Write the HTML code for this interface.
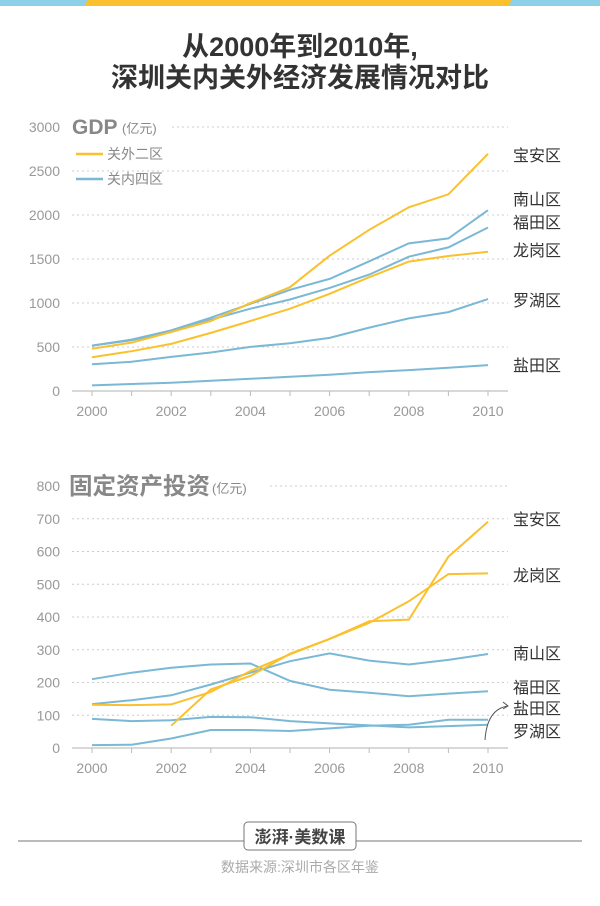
<!DOCTYPE html>
<html><head><meta charset="utf-8"><style>
body{margin:0;width:600px;height:901px;background:#fff;overflow:hidden;font-family:"Liberation Sans","Noto Sans CJK SC",sans-serif;}
svg text{font-family:"Liberation Sans","Noto Sans CJK SC",sans-serif;}
</style></head><body>
<svg id="c" width="600" height="901" viewBox="0 0 600 901">
<rect x="0" y="0" width="600" height="6" fill="#8ed0e8"/>
<polygon points="88,0 512,0 508,6 84,6" fill="#fbc02d"/>
<text x="300" y="56" text-anchor="middle" font-size="27" font-weight="bold" fill="#333">从2000年到2010年,</text>
<text x="300" y="87" text-anchor="middle" font-size="27" font-weight="bold" fill="#333">深圳关内关外经济发展情况对比</text>
<g id="g1"></g>
<g id="g2"></g>
<line x1="18" y1="841" x2="582" y2="841" stroke="#777" stroke-width="1"/>
<rect x="244" y="822" width="112" height="28" rx="4" fill="#fff" stroke="#777"/>
<text x="300" y="843" text-anchor="middle" font-size="17" font-weight="bold" fill="#444">澎湃·美数课</text>
<text x="300" y="872" text-anchor="middle" font-size="14" fill="#aaa">数据来源:深圳市各区年鉴</text>
</svg>
<script>
const years=[2000,2001,2002,2003,2004,2005,2006,2007,2008,2009,2010];
const gdpTicks=[0,500,1000,1500,2000,2500,3000];
const invTicks=[0,100,200,300,400,500,600,700,800];
const xTickLabels=[2000,2002,2004,2006,2008,2010];
const gdpBaoan=[479,550,671,795,999,1180,1538,1832,2088,2235,2695];
const gdpLonggang=[384,452,535,660,795,935,1104,1293,1470,1534,1583];
const gdpNanshan=[516,584,690,833,991,1150,1274,1474,1677,1734,2054];
const gdpFutian=[516,577,671,810,935,1040,1172,1323,1526,1632,1858];
const gdpLuohu=[305,332,388,437,501,543,603,720,825,897,1044];
const gdpYantian=[64,79,94,117,139,162,185,215,237,264,294];
const invBaoan=[null,null,68,179,220,288,333,387,392,584,691];
const invLonggang=[132,131,133,171,235,286,333,382,448,531,533];
const invNanshan=[134,146,161,194,230,265,289,267,255,269,287];
const invFutian=[210,230,245,255,258,205,178,169,158,166,173];
const invYantian=[9,10,29,55,55,52,60,68,71,86,86];
const invLuohu=[89,82,85,95,94,82,75,69,63,67,71];
const NS="http://www.w3.org/2000/svg";
const Y="#fbc02d",B="#7ab8d6";
function mk(p,t,a){const e=document.createElementNS(NS,t);for(const k in a)e.setAttribute(k,a[k]);p.appendChild(e);return e;}
const x=v=>92+(v-2000)*39.6;
function chart(g,y0,pxPerUnit,ticks,series,labels,gridStart){
  const y=v=>y0-v*pxPerUnit;
  ticks.forEach((t,i)=>{
    if(t>0){const l=mk(g,'line',{x1:i==ticks.length-1?gridStart:72,x2:508,y1:y(t),y2:y(t),stroke:'#ccc','stroke-dasharray':'2,3'});
    
    }
    const tx=mk(g,'text',{x:60,y:y(t)+5,'text-anchor':'end','font-size':14,fill:'#999'});tx.textContent=t;
    
    
  });
  const ax=mk(g,'line',{x1:72,x2:508,y1:y0,y2:y0,stroke:'#ccc','stroke-width':1.5});
  
  
  years.forEach(yr=>{const t=mk(g,'line',{x1:x(yr),x2:x(yr),y1:y0,y2:y0+5,stroke:'#bbb'});
    
    });
  xTickLabels.forEach(yr=>{const t=mk(g,'text',{x:x(yr),y:y0+25,'text-anchor':'middle','font-size':14,fill:'#999'});t.textContent=yr;
    
    });
  series.forEach(s=>{
    let d='';s.v.forEach((v,i)=>{if(v==null)return;d+=(d?'L':'M')+x(years[i]).toFixed(1)+','+y(v).toFixed(1);});
    const p=mk(g,'path',{d:d,fill:'none',stroke:s.c,'stroke-width':2});
    
    
  });
  labels.forEach(l=>{const t=mk(g,'text',{x:513,y:l[1],'font-size':16,fill:'#333'});t.textContent=l[0];
    
    });
}
const g1=document.getElementById('g1'),g2=document.getElementById('g2');
chart(g1,391,44/500,gdpTicks,[
 {v:gdpYantian,c:B,n:'line-yantian-gdp'},{v:gdpLuohu,c:B,n:'line-luohu-gdp'},{v:gdpFutian,c:B,n:'line-futian-gdp'},{v:gdpNanshan,c:B,n:'line-nanshan-gdp'},
 {v:gdpLonggang,c:Y,n:'line-longgang-gdp'},{v:gdpBaoan,c:Y,n:'line-baoan-gdp'}],
 [['宝安区',161],['南山区',205],['福田区',228],['龙岗区',256],['罗湖区',306],['盐田区',371]],172);
chart(g2,748,0.3275,invTicks,[
 {v:invLuohu,c:B,n:'line-luohu-inv'},{v:invYantian,c:B,n:'line-yantian-inv'},{v:invFutian,c:B,n:'line-futian-inv'},{v:invNanshan,c:B,n:'line-nanshan-inv'},
 {v:invLonggang,c:Y,n:'line-longgang-inv'},{v:invBaoan,c:Y,n:'line-baoan-inv'}],
 [['宝安区',525],['龙岗区',581],['南山区',659],['福田区',693],['盐田区',714],['罗湖区',737]],270);
let t=mk(g1,'text',{x:72,y:134,'font-size':21,'font-weight':'bold',fill:'#888'});t.textContent='GDP';


t=mk(g1,'text',{x:122,y:133,'font-size':13,fill:'#888'});t.textContent='(亿元)';


[[154,Y,'关外二区'],[179,B,'关内四区']].forEach(l=>{
 const ln=mk(g1,'line',{x1:76,x2:103,y1:l[0],y2:l[0],stroke:l[1],'stroke-width':2.5});
 
 
 const tx=mk(g1,'text',{x:107,y:l[0]+5,'font-size':14,fill:'#888'});tx.textContent=l[2];
 
 
});
t=mk(g2,'text',{x:69,y:494,'font-size':23.5,'font-weight':'bold',fill:'#888'});t.textContent='固定资产投资';


t=mk(g2,'text',{x:212,y:493,'font-size':13,fill:'#888'});t.textContent='(亿元)';


const ar=mk(g2,'path',{d:'M485,740 Q487,709 508,706 M503,702 L508,706 L503,709',fill:'none',stroke:'#555','stroke-width':1});


</script>
</body></html>
